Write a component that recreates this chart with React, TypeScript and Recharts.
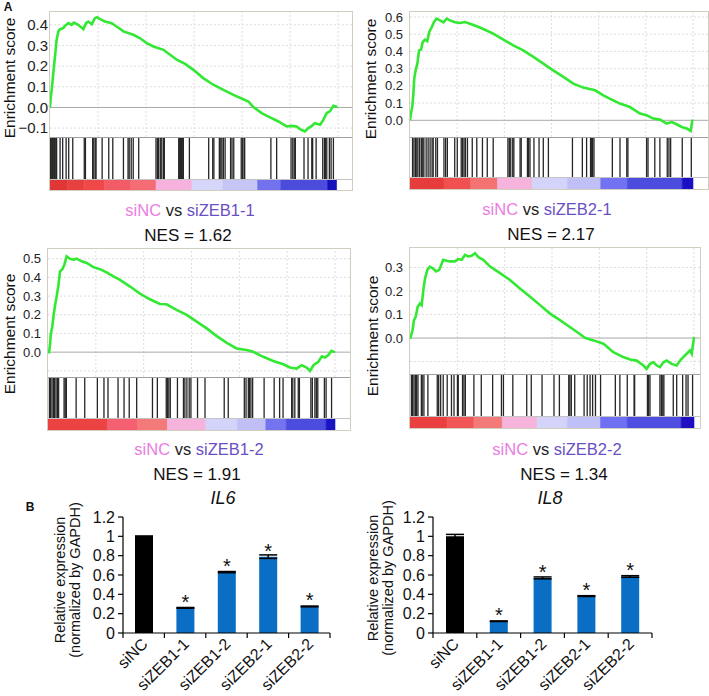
import React from 'react';
import {
  LineChart, Line, XAxis, YAxis, ReferenceLine, ComposedChart, ReferenceArea,
  BarChart, Bar, ErrorBar, LabelList, Cell,
} from 'recharts';

const FONT = '"Liberation Sans", Arial, Helvetica, sans-serif';

// ---------- Panel A: running enrichment scores [rank % of gene list, ES] ----------
const es_siZEB1_1: [number, number][] = [
  [0, 0], [0.3, 0.053], [0.7, 0.1], [1.2, 0.174], [1.5, 0.215], [1.9, 0.27], [2.3, 0.327], [2.9, 0.368],
  [3.5, 0.379], [4.6, 0.384], [5.2, 0.395], [6.4, 0.408], [7.5, 0.4], [8.3, 0.411], [9.8, 0.4], [11.6, 0.379],
  [12.5, 0.408], [13.3, 0.416], [14.5, 0.403], [15.6, 0.432], [16.4, 0.437], [17.4, 0.427], [19.1, 0.416],
  [21.4, 0.408], [23.1, 0.392], [25.5, 0.368], [28.9, 0.352], [31.3, 0.335], [33.6, 0.311], [35.9, 0.295],
  [39.4, 0.279], [41.7, 0.255], [44.0, 0.231], [46.9, 0.211], [49.8, 0.182], [53.2, 0.142], [56.7, 0.11],
  [60.2, 0.085], [63.7, 0.061], [67.1, 0.04], [68.9, 0.029], [70.6, 0.002], [73.5, -0.027], [76.4, -0.048],
  [79.3, -0.068], [82.2, -0.092], [83.9, -0.089], [85.6, -0.092], [86.8, -0.105], [88.5, -0.116], [89.7, -0.1],
  [90.9, -0.089], [92.0, -0.076], [93.8, -0.084], [94.9, -0.06], [96.1, -0.027], [97.2, -0.019], [98.4, 0.008],
  [99.8, 0.002],
];
const es_siZEB2_1: [number, number][] = [
  [0, 0], [0.4, 0.048], [0.8, 0.077], [1.2, 0.155], [1.5, 0.242], [2.0, 0.29], [2.6, 0.329], [3.2, 0.406],
  [3.9, 0.41], [4.5, 0.455], [5.3, 0.468], [6.1, 0.46], [6.8, 0.513], [7.7, 0.542], [8.5, 0.571], [9.4, 0.59],
  [10.6, 0.58], [11.8, 0.569], [13.0, 0.59], [14.1, 0.58], [15.9, 0.569], [17.7, 0.565], [19.4, 0.571],
  [21.2, 0.561], [23.6, 0.546], [25.9, 0.53], [29.4, 0.503], [33.0, 0.468], [36.5, 0.435], [40.0, 0.406],
  [43.6, 0.368], [47.1, 0.329], [50.6, 0.29], [54.2, 0.252], [57.7, 0.213], [61.2, 0.19], [65.4, 0.174],
  [68.3, 0.145], [71.8, 0.116], [74.2, 0.097], [77.7, 0.077], [81.3, 0.039], [83.6, 0.029], [86.0, 0.01],
  [88.3, 0.004], [90.7, -0.019], [92.5, -0.01], [94.2, -0.023], [96.0, -0.039], [97.8, -0.048], [99.2, -0.062],
  [99.8, 0.004],
];
const es_siZEB1_2: [number, number][] = [
  [0.3, -0.007], [0.7, 0.038], [1.0, 0.1], [1.5, 0.136], [1.9, 0.19], [2.4, 0.244], [3.0, 0.297], [3.6, 0.355],
  [4.2, 0.432], [5.0, 0.444], [5.7, 0.468], [6.5, 0.513], [7.7, 0.5], [8.8, 0.495], [10.0, 0.5], [11.7, 0.486],
  [13.5, 0.477], [15.8, 0.455], [18.1, 0.444], [20.4, 0.427], [22.8, 0.405], [25.1, 0.387], [28.6, 0.351],
  [31.9, 0.315], [35.5, 0.283], [39.0, 0.258], [41.3, 0.256], [44.8, 0.226], [48.3, 0.199], [51.8, 0.163],
  [55.3, 0.127], [58.8, 0.086], [62.3, 0.05], [65.7, 0.02], [69.2, 0.011], [71.5, 0.002], [75.0, -0.025],
  [78.5, -0.047], [82.0, -0.065], [84.3, -0.082], [86.6, -0.088], [88.4, -0.07], [90.1, -0.082], [91.3, -0.1],
  [92.5, -0.07], [94.2, -0.052], [95.4, -0.022], [96.5, -0.029], [97.7, -0.016], [98.8, 0.007], [100, 0],
];
const es_siZEB2_2: [number, number][] = [
  [0, -0.003], [0.4, 0.011], [0.9, 0.033], [1.4, 0.076], [2.0, 0.09], [2.7, 0.133], [3.5, 0.147], [4.1, 0.14],
  [4.7, 0.204], [5.3, 0.254], [6.1, 0.29], [7.0, 0.304], [8.0, 0.297], [9.2, 0.283], [10.3, 0.29], [11.7, 0.333],
  [12.9, 0.329], [14.1, 0.326], [15.8, 0.326], [17.0, 0.336], [18.2, 0.333], [19.4, 0.354], [20.5, 0.347],
  [21.7, 0.35], [22.9, 0.361], [24.1, 0.344], [25.8, 0.333], [28.2, 0.304], [31.7, 0.276], [35.2, 0.247],
  [38.7, 0.211], [42.3, 0.176], [45.8, 0.14], [49.3, 0.104], [52.8, 0.076], [56.3, 0.047], [59.9, 0.016],
  [61.6, 0.001], [64.6, -0.01], [68.1, -0.024], [71.6, -0.06], [75.1, -0.081], [77.5, -0.091], [79.8, -0.096],
  [82.2, -0.117], [83.3, -0.131], [84.5, -0.11], [85.7, -0.103], [86.9, -0.117], [88.0, -0.124], [89.2, -0.103],
  [90.4, -0.096], [92.1, -0.11], [93.9, -0.117], [95.1, -0.096], [96.2, -0.081], [97.4, -0.067], [98.6, -0.053],
  [99.2, -0.067], [100, 0.004],
];

// gene-set hit positions (rank % of gene list)
const hits_siZEB1_1 = [
  0.2, 0.6, 0.9, 1.3, 1.6, 2.0, 2.3, 3.5, 4.4, 5.6, 6.5, 7.9, 11.9, 12.3, 14.8, 15.2, 15.7, 16.0, 18.1, 20.4,
  21.8, 25.5, 27.1, 27.5, 28.2, 28.9, 30.8, 36.8, 37.3, 37.7, 38.3, 38.8, 39.4, 39.7, 44.7, 44.9, 45.3, 45.6,
  45.8, 46.1, 46.3, 48.4, 55.1, 56.5, 56.9, 58.8, 59.3, 59.7, 60.2, 60.8, 62.7, 63.2, 63.8, 66.4, 66.9, 67.4,
  67.6, 76.7, 78.7, 83.7, 84.3, 84.8, 85.2, 88.2, 89.6, 90.9, 91.2, 92.4, 94.7, 95.3, 95.6, 96.1, 97.0, 97.6, 98.4,
];
const hits_siZEB2_1 = [
  0.9, 1.4, 1.9, 2.4, 2.8, 3.4, 4.0, 4.5, 4.9, 5.7, 6.4, 7.1, 7.8, 8.2, 9.1, 9.7, 12.0, 12.6, 13.2, 15.8, 16.7,
  18.1, 18.6, 19.1, 19.6, 20.3, 22.0, 23.6, 25.6, 27.3, 29.4, 34.6, 35.1, 35.6, 36.3, 36.7, 38.9, 39.3, 41.5,
  41.9, 42.4, 43.8, 45.6, 47.1, 48.9, 57.4, 60.9, 62.4, 63.8, 64.2, 64.5, 65.0, 71.5, 74.2, 76.6, 77.0, 83.6,
  84.1, 86.5, 88.3, 90.9, 91.5, 92.1, 96.2, 99.4,
];
const hits_siZEB1_2 = [
  0.5, 0.9, 1.4, 1.9, 2.3, 2.8, 3.3, 3.7, 5.6, 6.0, 6.4, 9.8, 12.8, 17.2, 19.5, 20.9, 24.4, 26.5, 28.3, 30.9,
  36.4, 38.1, 41.2, 41.6, 42.1, 42.6, 45.1, 47.2, 47.7, 48.4, 49.2, 49.8, 52.1, 54.7, 61.4, 62.8, 68.4, 69.0,
  69.8, 70.2, 70.7, 71.3, 75.3, 78.8, 80.7, 81.9, 84.9, 85.3, 86.0, 87.2, 87.6, 91.6, 92.1, 93.0, 93.5, 94.0,
  96.3, 96.9, 98.8,
];
const hits_siZEB2_2 = [
  0.5, 0.9, 1.4, 1.9, 2.3, 2.8, 4.0, 4.3, 4.9, 6.3, 9.6, 10.1, 10.8, 11.7, 13.1, 14.6, 15.5, 16.7, 17.0, 18.5,
  19.0, 19.5, 22.5, 25.1, 29.1, 32.2, 32.9, 36.2, 41.1, 42.7, 46.5, 50.7, 52.6, 55.9, 56.3, 56.8, 58.0, 61.3,
  62.4, 63.4, 64.3, 65.3, 67.1, 72.3, 73.9, 76.5, 78.9, 79.1, 83.6, 84.0, 84.5, 88.0, 88.5, 89.0, 89.4, 92.7,
  93.9, 96.0, 97.2, 97.9, 99.5,
];

// ranked-list metric colour bands [from %, to %, colour]
type Band = [number, number, string];
const bands_siZEB1_1: Band[] = [
  [0, 6, '#e03636'], [6, 11.9, '#e84040'], [11.9, 18.9, '#f04848'], [18.9, 28, '#f25c66'], [28, 36.8, '#f46c74'],
  [36.8, 49.3, '#f6b2dc'], [49.3, 60, '#d6d6fa'], [60, 72.1, '#c6c6f6'], [72.1, 80.2, '#7272ee'],
  [80.2, 96.4, '#4c4cdc'], [96.4, 99.5, '#1610bc'],
];
const bands_siZEB2_1: Band[] = [
  [0, 12.0, '#e63c3c'], [12.0, 21.4, '#f05050'], [21.4, 30.9, '#f47272'], [30.9, 43.2, '#f6b4dc'],
  [43.2, 55.6, '#d4d4fa'], [55.6, 67.4, '#c0c0f6'], [67.4, 76.8, '#7272f2'], [76.8, 96.2, '#4c4cde'],
  [96.2, 100, '#1c10c4'],
];
const bands_siZEB1_2: Band[] = [
  [0, 20.7, '#ec4242'], [20.7, 31.2, '#f46070'], [31.2, 41.6, '#f47a7a'], [41.6, 55.0, '#f6b4dc'],
  [55.0, 66.0, '#d4d4fa'], [66.0, 75.9, '#c0c0f6'], [75.9, 83.0, '#7474f0'], [83.0, 96.9, '#4c4cde'],
  [96.9, 100, '#1a14c2'],
];
const bands_siZEB2_2: Band[] = [
  [0, 13.1, '#ea4040'], [13.1, 22.5, '#f05656'], [22.5, 32.5, '#f47a7a'], [32.5, 44.8, '#f6b4dc'],
  [44.8, 55.4, '#d4d4fa'], [55.4, 67.1, '#c0c0f8'], [67.1, 76.5, '#7070f2'], [76.5, 95.5, '#4e4ee0'],
  [95.5, 100, '#2010c0'],
];

const gridRanks = [100 / 6, 200 / 6, 300 / 6, 400 / 6, 500 / 6, 100];

// ---------- Panel B ----------
const categories = ['siNC', 'siZEB1-1', 'siZEB1-2', 'siZEB2-1', 'siZEB2-2'];
const il6Values = [1.0, 0.26, 0.63, 0.79, 0.275];
const il6Errors = [0.004, 0.004, 0.006, 0.018, 0.004];
const il8Values = [1.0, 0.122, 0.57, 0.382, 0.585];
const il8Errors = [0.02, 0.003, 0.01, 0.004, 0.008];
const sigMarks = ['', '*', '*', '*', '*'];
const barTicks = [0, 0.2, 0.4, 0.6, 0.8, 1, 1.2];

const PINK = '#ea7de2';
const PURPLE = '#6a4fc4';

function T({ x, y, size, children, rotate, bold, italic, color }: any) {
  return (
    <div
      style={{
        position: 'absolute', left: x, top: y,
        transform: `translate(-50%, -50%)${rotate ? ' rotate(-90deg)' : ''}`,
        fontSize: size, fontFamily: FONT, fontWeight: bold ? 'bold' : 'normal',
        fontStyle: italic ? 'italic' : 'normal', color: color || '#111', whiteSpace: 'nowrap', lineHeight: 1,
      }}
    >
      {children}
    </div>
  );
}

const M0 = { top: 0, right: 0, bottom: 0, left: 0 };

function Gsea(p: any) {
  const xMax = (100 * p.frameW) / p.lineW;
  const axisW = 50;
  const pad = 9;
  const data = p.curve.map(([x, y]: [number, number]) => ({ x, es: y }));
  const hitData = p.hits.map((h: number) => ({ x: h, y: 0.5 }));
  const fmt = (v: number) => {
    if (v < 0) return p.showNeg ? '\u2212' + Math.abs(v).toFixed(1) : '';
    return v.toFixed(1);
  };
  const total = p.esH + p.hitH + p.barH;
  return (
    <>
      <div style={{ position: 'absolute', left: p.left - axisW, top: p.top - pad }}>
        <LineChart width={p.frameW + axisW} height={p.esH + pad} data={data} margin={{ top: pad, right: 0, bottom: 0, left: 0 }}>
          <XAxis dataKey="x" type="number" domain={[0, xMax]} hide />
          <YAxis
            type="number" domain={[p.yMin, p.yMax]} ticks={p.ticks} width={axisW} interval={0}
            axisLine={false} tickLine={false} tickSize={p.tickSize} tickMargin={2}
            tick={{ fontSize: p.tickFont, fill: '#222', fontFamily: FONT }} tickFormatter={fmt}
            allowDataOverflow
          />
          {p.ticks.filter((t: number) => t !== 0).map((t: number) => (
            <ReferenceLine key={'h' + t} y={t} stroke="#dedede" strokeDasharray="2 2" />
          ))}
          {gridRanks.map((g) => (
            <ReferenceLine key={'v' + g} x={g} stroke="#dedede" strokeDasharray="2 2" />
          ))}
          <ReferenceLine y={0} stroke="#a8a8a8" strokeWidth={1} />
          <Line
            dataKey="es" type="linear" stroke="#33e833" strokeWidth={2.6}
            dot={false} isAnimationActive={false}
          />
        </LineChart>
      </div>
      <div style={{ position: 'absolute', left: p.left, top: p.top + p.esH }}>
        <ComposedChart width={p.frameW} height={p.hitH} data={hitData} margin={M0}>
          <XAxis dataKey="x" type="number" domain={[0, xMax]} hide />
          <YAxis type="number" domain={[0, 1]} hide />
          <Line dataKey="y" stroke="none" dot={false} isAnimationActive={false} />
          {p.hits.map((h: number, i: number) => (
            <ReferenceLine key={i} x={h} stroke="#262626" strokeWidth={1.3} />
          ))}
        </ComposedChart>
      </div>
      <div style={{ position: 'absolute', left: p.left, top: p.top + p.esH + p.hitH }}>
        <ComposedChart width={p.frameW} height={p.barH} data={hitData} margin={M0}>
          <XAxis dataKey="x" type="number" domain={[0, xMax]} hide />
          <YAxis type="number" domain={[0, 1]} hide />
          <Line dataKey="y" stroke="none" dot={false} isAnimationActive={false} />
          {p.bands.map(([a, b, c]: Band, i: number) => (
            <ReferenceArea key={i} x1={a} x2={b} y1={0} y2={1} fill={c} fillOpacity={1} stroke={c} strokeWidth={0.6} />
          ))}
        </ComposedChart>
      </div>
      <div style={{ position: 'absolute', left: p.left, top: p.top + p.esH, width: p.frameW, height: 1, background: '#a0a0a0' }} />
      <div style={{ position: 'absolute', left: p.left, top: p.top + p.esH + p.hitH - 1, width: p.frameW, height: 1, background: '#c4c4c4' }} />
      <div
        style={{
          position: 'absolute', left: p.left - 1, top: p.top - 1, width: p.frameW + 2, height: total + 2,
          border: '1.5px solid #d2cebf', boxSizing: 'border-box', pointerEvents: 'none',
        }}
      />
    </>
  );
}

function CatTick(props: any) {
  const { x, y, payload, index, bw } = props;
  return (
    <g>
      <line x1={x - bw / 2} x2={x - bw / 2} y1={y} y2={y + 5} stroke="#000" strokeWidth={1.2} />
      {index === categories.length - 1 && (
        <line x1={x + bw / 2} x2={x + bw / 2} y1={y} y2={y + 5} stroke="#000" strokeWidth={1.2} />
      )}
      <text
        x={0} y={0} transform={`translate(${x + 5},${y + 12}) rotate(-45)`} textAnchor="end"
        fontSize={16} fontFamily={FONT} fill="#111"
      >
        {payload.value}
      </text>
    </g>
  );
}

function Star(props: any) {
  const { x, y, width, value } = props;
  if (!value) return null;
  return (
    <text x={x + width / 2} y={y + 1} textAnchor="middle" fontSize={20} fontFamily={FONT} fill="#111">
      {value}
    </text>
  );
}

function BarPanel({ plotLeft, plotW, plotTop, plotH, values, errors }: any) {
  const yW = 50;
  const mTop = 15;
  const xH = 70;
  const bw = plotW / categories.length;
  const data = categories.map((c, i) => ({ name: c, v: values[i], err: errors[i], sig: sigMarks[i] }));
  return (
    <div style={{ position: 'absolute', left: plotLeft - yW, top: plotTop - mTop }}>
      <BarChart
        width={yW + plotW + 12} height={mTop + plotH + xH} data={data}
        margin={{ top: mTop, right: 12, bottom: 0, left: 0 }}
      >
        <XAxis
          dataKey="name" height={xH} interval={0} tickLine={false} tickSize={0} tickMargin={0}
          axisLine={{ stroke: '#000', strokeWidth: 1.2 }} tick={<CatTick bw={bw} />}
        />
        <YAxis
          type="number" domain={[0, 1.2]} ticks={barTicks} width={yW} interval={0}
          axisLine={{ stroke: '#000', strokeWidth: 1.2 }} tickLine={{ stroke: '#000', strokeWidth: 1.2 }}
          tickSize={5} tickMargin={3} tick={{ fontSize: 16, fill: '#111', fontFamily: FONT }}
        />
        <Bar dataKey="v" barSize={18} isAnimationActive={false}>
          {data.map((d, i) => (
            <Cell key={i} fill={i === 0 ? '#000000' : '#0a6fc4'} />
          ))}
          <ErrorBar dataKey="err" width={9} stroke="#000" strokeWidth={1.5} direction="y" />
          <LabelList dataKey="sig" content={<Star />} />
        </Bar>
      </BarChart>
    </div>
  );
}

function Title({ x, y, kd }: any) {
  return (
    <T x={x} y={y} size={16.5}>
      <span style={{ color: PINK }}>siNC</span>
      <span style={{ color: '#222' }}> vs </span>
      <span style={{ color: PURPLE }}>{kd}</span>
    </T>
  );
}

export default function App() {
  return (
    <div
      style={{
        position: 'absolute', left: 0, top: 0, width: 709, height: 696, overflow: 'hidden',
        background: '#fff', fontFamily: FONT,
      }}
    >
      <T x={8} y={7} size={12} bold>A</T>
      <T x={30} y={507} size={12} bold>B</T>

      <Gsea
        left={50} top={12} frameW={302} lineW={288} esH={125} hitH={43} barH={10}
        yMin={-0.143} yMax={0.462} ticks={[-0.1, 0, 0.1, 0.2, 0.3, 0.4]} showNeg tickFont={15} tickSize={0}
        curve={es_siZEB1_1} hits={hits_siZEB1_1} bands={bands_siZEB1_1}
      />
      <Gsea
        left={410} top={12} frameW={298} lineW={283} esH={125} hitH={41} barH={11}
        yMin={-0.097} yMax={0.629} ticks={[0, 0.1, 0.2, 0.3, 0.4, 0.5, 0.6]} tickFont={13} tickSize={5}
        curve={es_siZEB2_1} hits={hits_siZEB2_1} bands={bands_siZEB2_1}
      />
      <Gsea
        left={48} top={249} frameW={302} lineW={287} esH={128} hitH={42} barH={11}
        yMin={-0.133} yMax={0.552} ticks={[-0.1, 0, 0.1, 0.2, 0.3, 0.4, 0.5]} tickFont={13} tickSize={5}
        curve={es_siZEB1_2} hits={hits_siZEB1_2} bands={bands_siZEB1_2}
      />
      <Gsea
        left={410} top={248} frameW={290} lineW={284} esH={126} hitH={43} barH={11}
        yMin={-0.153} yMax={0.383} ticks={[-0.1, 0, 0.1, 0.2, 0.3]} tickFont={13} tickSize={5}
        curve={es_siZEB2_2} hits={hits_siZEB2_2} bands={bands_siZEB2_2}
      />

      <T x={10} y={78} size={15.5} rotate>Enrichment score</T>
      <T x={371} y={79} size={15.5} rotate>Enrichment score</T>
      <T x={10} y={334} size={15.5} rotate>Enrichment score</T>
      <T x={373} y={336} size={15.5} rotate>Enrichment score</T>

      <Title x={190} y={210} kd="siZEB1-1" />
      <T x={188} y={235} size={17}>NES = 1.62</T>
      <Title x={547} y={209} kd="siZEB2-1" />
      <T x={551} y={234} size={17}>NES = 2.17</T>
      <Title x={199} y={449} kd="siZEB1-2" />
      <T x={197} y={474} size={17}>NES = 1.91</T>
      <Title x={557} y={449} kd="siZEB2-2" />
      <T x={564} y={474} size={17}>NES = 1.34</T>

      <T x={223} y={498} size={18} italic>IL6</T>
      <T x={550} y={498} size={18} italic>IL8</T>

      <T x={60} y={580} size={14.5} rotate>Relative expression</T>
      <T x={75} y={580} size={14.5} rotate>(normalized by GAPDH)</T>
      <T x={373} y={578} size={14.5} rotate>Relative expression</T>
      <T x={388} y={578} size={14.5} rotate>(normalized by GAPDH)</T>

      <BarPanel plotLeft={123} plotW={207} plotTop={517} plotH={116} values={il6Values} errors={il6Errors} />
      <BarPanel plotLeft={433} plotW={219} plotTop={517} plotH={116} values={il8Values} errors={il8Errors} />
    </div>
  );
}
